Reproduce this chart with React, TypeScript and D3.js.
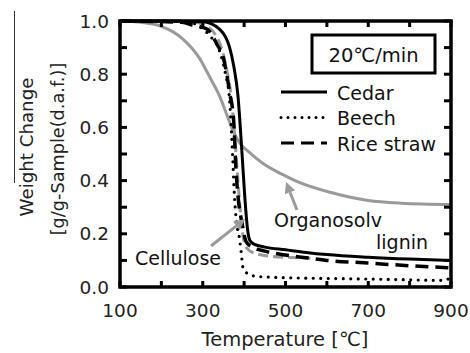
import React, { useEffect, useRef } from 'react';
import * as d3 from 'd3';

// temperatures [°C] and weight change [g/g-sample]
const cedarT = [100, 200, 300, 320, 340, 355, 365, 375, 385, 395, 402, 408, 414, 425, 450, 500, 550, 600, 700, 800, 900];
const cedarW = [1.0, 1.0, 0.997, 0.99, 0.97, 0.94, 0.9, 0.83, 0.72, 0.5, 0.33, 0.22, 0.175, 0.16, 0.15, 0.14, 0.13, 0.122, 0.112, 0.105, 0.1];

const beechT = [100, 250, 280, 300, 320, 340, 355, 365, 372, 377, 382, 389, 393, 397, 409, 430, 460, 500, 600, 700, 800, 880, 900];
const beechW = [1.0, 1.0, 0.99, 0.97, 0.94, 0.89, 0.8, 0.7, 0.5, 0.33, 0.24, 0.18, 0.13, 0.075, 0.05, 0.04, 0.037, 0.035, 0.032, 0.03, 0.027, 0.025, 0.035];

const riceT = [100, 250, 275, 310, 335, 350, 358, 365, 375, 380, 386, 395, 405, 420, 450, 500, 550, 600, 700, 800, 900];
const riceW = [1.0, 0.995, 0.985, 0.97, 0.91, 0.86, 0.8, 0.73, 0.62, 0.45, 0.33, 0.24, 0.17, 0.15, 0.135, 0.12, 0.11, 0.1, 0.09, 0.08, 0.072];

const celluloseT = [100, 280, 310, 330, 345, 360, 370, 378, 385, 390, 395, 400, 410, 430, 470, 530, 560];
const celluloseW = [1.0, 0.995, 0.98, 0.95, 0.9, 0.8, 0.7, 0.55, 0.4, 0.3, 0.22, 0.17, 0.14, 0.125, 0.115, 0.11, 0.108];

const ligninT = [100, 150, 200, 250, 290, 320, 340, 360, 375, 390, 410, 445, 490, 530, 610, 700, 780, 900];
const ligninW = [1.0, 0.995, 0.98, 0.935, 0.865, 0.78, 0.72, 0.64, 0.58, 0.54, 0.51, 0.465, 0.425, 0.395, 0.355, 0.325, 0.315, 0.31];

const xTickLabels = [100, 300, 500, 700, 900];
const yTickLabels = [0, 0.2, 0.4, 0.6, 0.8, 1.0];
const legendNames = ['Cedar', 'Beech', 'Rice straw'];

const FONT = '"DejaVu Sans", sans-serif';
const GRAY = '#9a9a9a';

export default function App() {
  const svgRef = useRef<SVGSVGElement>(null);

  useEffect(() => {
    if (!svgRef.current) return;
    const svg = d3.select(svgRef.current);
    svg.selectAll('*').remove();

    const left = 120, right = 451, top = 21, bottom = 287;
    const x = d3.scaleLinear().domain([100, 900]).range([left, right]);
    const y = d3.scaleLinear().domain([0, 1]).range([bottom, top]);

    const line = d3.line<[number, number]>()
      .x(d => x(d[0]))
      .y(d => y(d[1]))
      .curve(d3.curveMonotoneX);
    const pts = (t: number[], w: number[]) => t.map((v, i) => [v, w[i]] as [number, number]);

    // stray rule from the scan
    svg.append('line')
      .attr('x1', 14.5).attr('x2', 14.5).attr('y1', 11).attr('y2', 183)
      .attr('stroke', '#333').attr('stroke-width', 1);

    // curves (grey ones underneath)
    svg.append('path').attr('d', line(pts(ligninT, ligninW)))
      .attr('fill', 'none').attr('stroke', GRAY).attr('stroke-width', 3);
    svg.append('path').attr('d', line(pts(celluloseT, celluloseW)))
      .attr('fill', 'none').attr('stroke', GRAY).attr('stroke-width', 3)
      .attr('stroke-dasharray', '10,5');
    svg.append('path').attr('d', line(pts(beechT, beechW)))
      .attr('fill', 'none').attr('stroke', '#000').attr('stroke-width', 3.2)
      .attr('stroke-linecap', 'round').attr('stroke-dasharray', '0,7.5');
    svg.append('path').attr('d', line(pts(riceT, riceW)))
      .attr('fill', 'none').attr('stroke', '#000').attr('stroke-width', 3.5)
      .attr('stroke-dasharray', '13,7');
    svg.append('path').attr('d', line(pts(cedarT, cedarW)))
      .attr('fill', 'none').attr('stroke', '#000').attr('stroke-width', 3);

    // frame
    svg.append('rect')
      .attr('x', left).attr('y', top).attr('width', right - left).attr('height', bottom - top)
      .attr('fill', 'none').attr('stroke', '#000').attr('stroke-width', 3.5);

    // inward ticks
    const xt = d3.range(100, 901, 100);
    xt.forEach(t => {
      svg.append('line').attr('x1', x(t)).attr('x2', x(t)).attr('y1', bottom).attr('y2', bottom - 6)
        .attr('stroke', '#000').attr('stroke-width', 3);
      svg.append('line').attr('x1', x(t)).attr('x2', x(t)).attr('y1', top).attr('y2', top + 6)
        .attr('stroke', '#000').attr('stroke-width', 3);
    });
    const yt = d3.range(0, 11).map(i => i / 10);
    yt.forEach(v => {
      svg.append('line').attr('x1', left).attr('x2', left + 7).attr('y1', y(v)).attr('y2', y(v))
        .attr('stroke', '#000').attr('stroke-width', 3);
      svg.append('line').attr('x1', right).attr('x2', right - 7).attr('y1', y(v)).attr('y2', y(v))
        .attr('stroke', '#000').attr('stroke-width', 3);
    });

    // tick labels
    xTickLabels.forEach(t => {
      svg.append('text').attr('x', x(t)).attr('y', 317)
        .attr('text-anchor', 'middle').attr('font-family', FONT).attr('font-size', 18.5)
        .attr('fill', '#222').text(t);
    });
    yTickLabels.forEach(v => {
      svg.append('text').attr('x', 109).attr('y', y(v) + 6.5)
        .attr('text-anchor', 'end').attr('font-family', FONT).attr('font-size', 18.5)
        .attr('fill', '#222').text(v.toFixed(1));
    });

    // axis titles
    svg.append('text').attr('x', 285).attr('y', 346)
      .attr('text-anchor', 'middle').attr('font-family', FONT).attr('font-size', 19.5)
      .attr('fill', '#222').text('Temperature [℃]');
    svg.append('text').attr('transform', 'translate(33,147) rotate(-90)')
      .attr('text-anchor', 'middle').attr('font-family', FONT).attr('font-size', 18.2)
      .attr('fill', '#222').text('Weight Change');
    svg.append('text').attr('transform', 'translate(64,149) rotate(-90)')
      .attr('text-anchor', 'middle').attr('font-family', FONT).attr('font-size', 17.7)
      .attr('fill', '#222').text('[g/g-Sample(d.a.f.)]');

    // heating-rate box
    svg.append('rect').attr('x', 312).attr('y', 35).attr('width', 123).attr('height', 38)
      .attr('fill', '#fff').attr('stroke', '#000').attr('stroke-width', 3);
    svg.append('text').attr('x', 373.5).attr('y', 62)
      .attr('text-anchor', 'middle').attr('font-family', FONT).attr('font-size', 19.5)
      .attr('fill', '#111').text('20℃/min');

    // legend
    const dashes = [null, '0,7', '13,7'];
    legendNames.forEach((name, i) => {
      const ly = 92 + i * 25.5;
      svg.append('line').attr('x1', 281).attr('x2', 327).attr('y1', ly).attr('y2', ly)
        .attr('stroke', '#000').attr('stroke-width', 3)
        .attr('stroke-linecap', i === 1 ? 'round' : 'butt')
        .attr('stroke-dasharray', dashes[i]);
      svg.append('text').attr('x', 337).attr('y', ly + 7.5)
        .attr('font-family', FONT).attr('font-size', 19).attr('fill', '#111').text(name);
    });

    // annotations
    const arrow = (x1: number, y1: number, x2: number, y2: number) => {
      const a = Math.atan2(y2 - y1, x2 - x1);
      const L = 11, W = 5.5;
      const bx = x2 - L * Math.cos(a), by = y2 - L * Math.sin(a);
      svg.append('line').attr('x1', x1).attr('y1', y1).attr('x2', bx).attr('y2', by)
        .attr('stroke', GRAY).attr('stroke-width', 3);
      svg.append('path')
        .attr('d', `M${x2},${y2}L${bx + W * Math.sin(a)},${by - W * Math.cos(a)}L${bx - W * Math.sin(a)},${by + W * Math.cos(a)}Z`)
        .attr('fill', GRAY);
    };
    arrow(297, 210, 286, 182);
    arrow(211, 246, 245, 219);

    svg.append('text').attr('x', 328).attr('y', 227)
      .attr('text-anchor', 'middle').attr('font-family', FONT).attr('font-size', 19)
      .attr('fill', '#111').text('Organosolv');
    svg.append('text').attr('x', 428).attr('y', 249)
      .attr('text-anchor', 'end').attr('font-family', FONT).attr('font-size', 19)
      .attr('fill', '#111').text('lignin');
    svg.append('text').attr('x', 178).attr('y', 265)
      .attr('text-anchor', 'middle').attr('font-family', FONT).attr('font-size', 19)
      .attr('fill', '#111').text('Cellulose');
  }, []);

  return (
    <svg ref={svgRef} width={470} height={353}
      style={{ position: 'absolute', left: 0, top: 0, background: '#fff' }} />
  );
}
